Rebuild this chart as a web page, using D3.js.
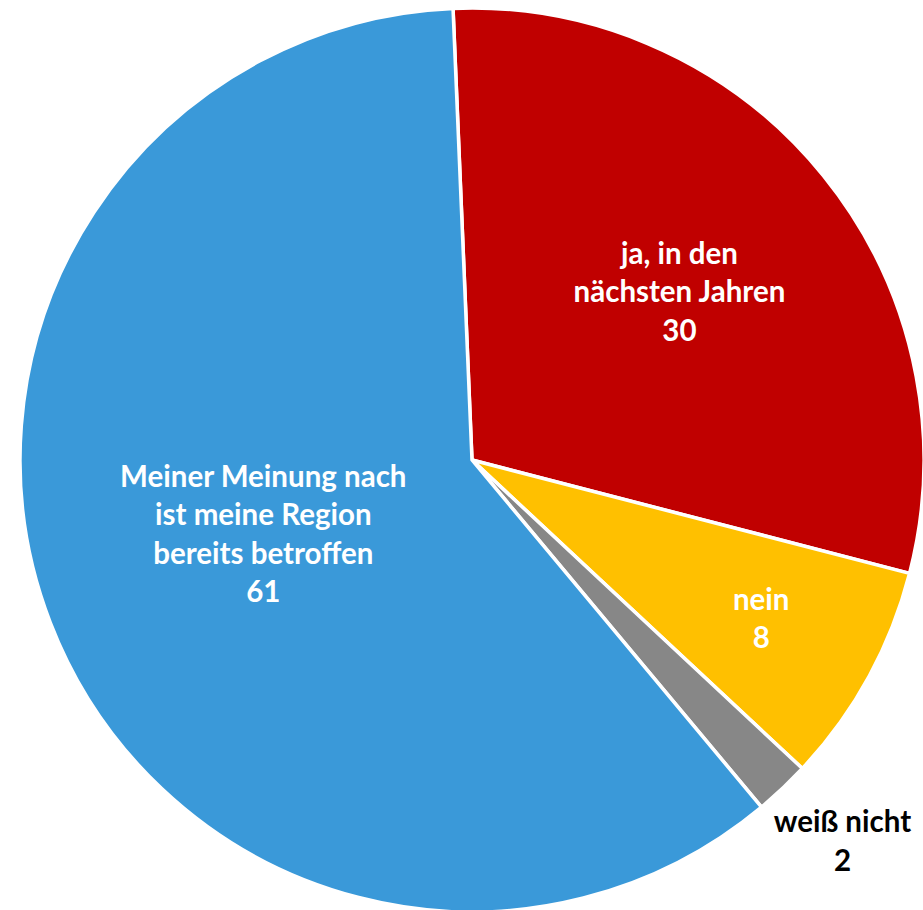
<!DOCTYPE html>
<html><head><meta charset="utf-8">
<script src="https://cdn.jsdelivr.net/npm/d3@7"></script>
<style>html,body{margin:0;padding:0;background:#fff;}svg{display:block;}</style>
</head><body>
<script>
const categories = ["ja, in den nächsten Jahren", "nein", "weiß nicht", "Meiner Meinung nach ist meine Region bereits betroffen"];
const values = [30, 8, 2, 61];
const labelLines = [["ja, in den", "nächsten Jahren", "30"], ["nein", "8"], ["weiß nicht", "2"], ["Meiner Meinung nach", "ist meine Region", "bereits betroffen", "61"]];
const colors = ["#C00000", "#FFC000", "#878787", "#3A99D9"];
const labelColors = ["#fff", "#fff", "#000", "#fff"];

const W = 923, H = 910;
const cx = 472, cy = 460, R = 452;
const svg = d3.select("body").append("svg").attr("width", W).attr("height", H);
const g = svg.append("g").attr("transform", `translate(${cx},${cy})`);

const startA = -0.042;
const pie = d3.pie().sort(null).value(d => d).startAngle(startA).endAngle(startA + 2 * Math.PI);
const arcs = pie(values);
const arc = d3.arc().innerRadius(0).outerRadius(R);

g.selectAll("path").data(arcs).join("path")
  .attr("d", arc)
  .attr("fill", (d, i) => colors[i])
  .attr("stroke", "#fff")
  .attr("stroke-width", 3.5)
  .attr("stroke-linejoin", "round");

const labelR = [0.59, 0.73, 1.18, 0.495];
const labelShift = [[0, 0], [0, 0], [4, -6], [0, -6]];
const lh = 38.5;
const labels = g.selectAll("g.lbl").data(arcs).join("g").attr("class", "lbl")
  .attr("transform", (d, i) => {
    const a = (d.startAngle + d.endAngle) / 2;
    const r = R * labelR[i];
    return `translate(${r * Math.sin(a) + labelShift[i][0]},${-r * Math.cos(a) + labelShift[i][1]})`;
  });
labels.each(function (d, i) {
  const lines = labelLines[i];
  const n = lines.length;
  d3.select(this).selectAll("text").data(lines).join("text")
    .attr("x", 0)
    .attr("y", (t, j) => (j - (n - 1) / 2) * lh + 10)
    .attr("text-anchor", "middle")
    .attr("font-family", "Lato, 'Open Sans', sans-serif")
    .attr("font-weight", "bold")
    .attr("font-size", 29.5)
    .attr("fill", labelColors[i])
    .text(t => t);
});
</script>
</body></html>
